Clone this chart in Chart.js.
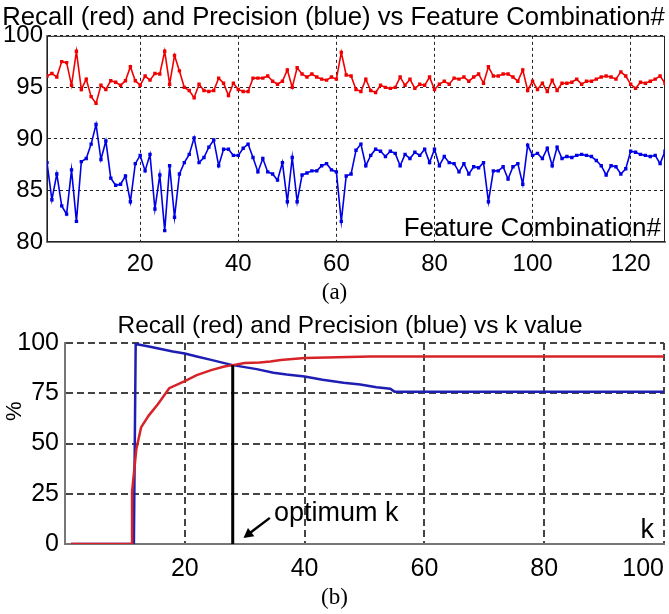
<!DOCTYPE html>
<html>
<head>
<meta charset="utf-8">
<script src="https://cdn.jsdelivr.net/npm/chart.js@4.4.1/dist/chart.umd.min.js"></script>
<style>
  html, body { margin: 0; padding: 0; background: #fff; }
  body { width: 669px; height: 614px; position: relative; overflow: hidden; }
  canvas { position: absolute; left: 0; }
  #topChart { top: 0; }
  #botChart { top: 305px; }
  .cap { position: absolute; left: 0; width: 669px; text-align: center;
         font-family: "Liberation Serif", "Times New Roman", serif; font-size: 23px; color: #000; }
</style>
</head>
<body>
<canvas id="topChart" width="669" height="290"></canvas>
<canvas id="botChart" width="669" height="285"></canvas>
<div class="cap" style="top:279px">(a)</div>
<div class="cap" style="top:584px">(b)</div>
<script>
// ---- (a) recall / precision per feature combination
const recallA = [
  96.1, 96.35, 96.0, 97.5, 97.4, 95.2, 98.5, 94.8, 95.8, 94.1,
  93.45, 95.2, 94.8, 95.65, 95.5, 95.2, 95.65, 97.0, 95.65, 95.2,
  96.1, 95.7, 96.35, 96.3, 98.5, 95.3, 98.1, 96.6, 95.0, 94.7,
  94.0, 95.3, 94.7, 94.6, 94.7, 95.9, 95.4, 94.2, 95.4, 94.8,
  94.6, 94.6, 95.9, 95.9, 95.9, 96.1, 95.6, 95.3, 95.6, 96.7,
  95.0, 96.9, 96.3, 96.0, 96.3, 96.0, 95.8, 95.7, 96.0, 95.8,
  98.4, 96.2, 96.1, 94.8, 94.6, 95.8, 94.7, 94.5, 95.2, 95.0,
  94.9, 95.0, 96.0, 95.2, 95.8, 94.9, 95.3, 95.2, 96.0, 94.8,
  95.3, 95.6, 95.3, 95.9, 95.8, 96.0, 95.6, 96.0, 96.3, 95.4,
  97.0, 96.1, 96.1, 96.3, 96.3, 96.0, 95.6, 96.7, 94.7, 95.6,
  94.8, 95.4, 94.6, 95.7, 94.7, 95.4, 95.4, 95.5, 95.8, 95.3,
  95.6, 95.6, 95.8, 96.0, 96.1, 96.0, 95.8, 96.5, 96.1, 95.3,
  94.9, 95.5, 95.4, 95.6, 95.8, 96.1, 95.4
];
const precisionA = [
  87.7, 84.1, 86.6, 83.5, 82.7, 87.0, 82.0, 87.8, 88.1, 89.5,
  91.4, 88.0, 89.8, 86.2, 85.5, 85.6, 86.4, 83.9, 87.6, 88.4,
  86.9, 88.5, 83.2, 86.5, 81.1, 87.4, 82.4, 86.6, 87.7, 88.5,
  90.1, 87.7, 88.2, 89.2, 89.9, 87.4, 89.0, 89.0, 88.4, 88.4,
  89.1, 89.5, 88.2, 86.8, 88.1, 86.8, 86.6, 86.0, 87.7, 83.9,
  88.2, 83.9, 86.5, 86.7, 86.9, 86.9, 87.4, 87.6, 87.0, 86.8,
  82.0, 86.4, 86.6, 88.9, 89.5, 87.4, 88.4, 89.0, 88.8, 88.3,
  88.8, 88.6, 87.4, 88.5, 88.1, 88.7, 88.4, 89.0, 87.7, 89.0,
  87.4, 88.3, 87.7, 87.6, 86.8, 87.6, 86.6, 87.3, 87.2, 87.7,
  83.9, 86.9, 86.9, 87.3, 86.1, 87.3, 87.6, 85.6, 89.4, 88.4,
  88.6, 88.1, 89.1, 87.4, 89.2, 88.1, 88.3, 88.2, 88.4, 88.5,
  88.4, 88.3, 87.9, 87.4, 86.5, 87.4, 87.3, 86.6, 87.1, 88.8,
  88.7, 88.5, 88.4, 88.3, 88.4, 87.6, 88.8
];
const featureCombos = recallA.map((v, i) => i + 1);
const xTicksA = [20, 40, 60, 80, 100, 120];
const yTicksA = [80, 85, 90, 95, 100];

// ---- (b) recall / precision against k
const kRecall    = [1, 11.2, 11.2, 11.9, 12.7, 14, 15.5, 17.4, 20, 22, 24.4, 26.6, 28, 30, 32.5, 34.3, 36, 40, 51, 100];
const recallB    = [0, 0, 26, 47, 58, 64, 69.5, 77.5, 81, 84, 86.5, 88.3, 89, 90, 90.3, 90.8, 91.5, 92.5, 93.3, 93.3];
const kPrecision = [1, 11.5, 11.8, 14, 16, 18, 20, 22, 24.4, 26.6, 28, 30, 32, 34.8, 37, 40, 43, 46.5, 49.3, 52, 54.3, 55, 100];
const precisionB = [0, 0, 99.5, 98.3, 97, 95.8, 94.8, 93.3, 91.6, 90, 89, 88, 87, 85.2, 84.3, 83.3, 81.7, 80.2, 79.3, 78, 77.2, 75.8, 75.8];
const optimumK = 28;
const optimumTop = 89;
const arrowFrom = [34.2, 13];
const arrowTo = [29.8, 3];
const noteAt = [34.9, 11.5];
const xTicksB = [0, 20, 40, 60, 80, 100];
const xLabelsB = ['', '20', '40', '60', '80', '100'];
const yTicksB = [0, 25, 50, 75, 100];
const titleB = 'Recall (red) and Precision (blue) vs k value';

const sans = '"Liberation Sans", Arial, sans-serif';

function pairs(xs, ys) {
  return xs.map((x, i) => ({ x: x, y: ys[i] }));
}
function fixedTicks(list) {
  return function (scale) { scale.ticks = list.map(v => ({ value: v })); };
}
function fixWidth(w) {
  return function (scale) { scale.width = w; scale.paddingTop = 0; scale.paddingBottom = 0; };
}
function fixHeight(h) {
  return function (scale) { scale.height = h; scale.paddingLeft = 0; scale.paddingRight = 0; };
}

const topDecor = {
  id: 'topDecor',
  beforeDatasetsDraw(chart) {
    const { ctx, chartArea: a } = chart;
    ctx.save();
    ctx.strokeStyle = '#222';
    ctx.lineWidth = 1;
    ctx.strokeRect(a.left + 0.5, a.top + 0.5, a.right - a.left - 1, a.bottom - a.top - 1);
    ctx.restore();
  },
  afterDraw(chart) {
    const { ctx, chartArea: a } = chart;
    ctx.save();
    ctx.font = '26px ' + sans;
    ctx.fillStyle = '#000';
    ctx.textAlign = 'right';
    ctx.textBaseline = 'alphabetic';
    ctx.fillText('Feature Combination#', a.right - 4, a.bottom - 6);
    ctx.restore();
  }
};

const botDecor = {
  id: 'botDecor',
  afterDraw(chart) {
    const { ctx, chartArea: a } = chart;
    const x = chart.scales.x, y = chart.scales.y;
    ctx.save();
    ctx.fillStyle = '#000';

    // title, centred a little right of the canvas middle like the original
    ctx.font = '24.4px ' + sans;
    ctx.textAlign = 'center';
    ctx.textBaseline = 'middle';
    ctx.fillText(titleB, 350, a.top - 17);

    // arrow to the optimum line
    const x0 = x.getPixelForValue(arrowFrom[0]), y0 = y.getPixelForValue(arrowFrom[1]);
    const x1 = x.getPixelForValue(arrowTo[0]), y1 = y.getPixelForValue(arrowTo[1]);
    const ang = Math.atan2(y1 - y0, x1 - x0);
    ctx.strokeStyle = '#000';
    ctx.lineWidth = 2.5;
    ctx.beginPath();
    ctx.moveTo(x0, y0);
    ctx.lineTo(x1 - 6 * Math.cos(ang), y1 - 6 * Math.sin(ang));
    ctx.stroke();
    ctx.beginPath();
    ctx.moveTo(x1, y1);
    ctx.lineTo(x1 - 11 * Math.cos(ang - 0.5), y1 - 11 * Math.sin(ang - 0.5));
    ctx.lineTo(x1 - 11 * Math.cos(ang + 0.5), y1 - 11 * Math.sin(ang + 0.5));
    ctx.closePath();
    ctx.fill();

    ctx.font = '27px ' + sans;
    ctx.textAlign = 'left';
    ctx.textBaseline = 'alphabetic';
    ctx.fillText('optimum k', x.getPixelForValue(noteAt[0]), y.getPixelForValue(noteAt[1]));
    ctx.textAlign = 'right';
    ctx.fillText('k', a.right - 10, a.bottom - 6);

    // rotated "%" axis label
    ctx.translate(15, y.getPixelForValue(66));
    ctx.rotate(-Math.PI / 2);
    ctx.textAlign = 'center';
    ctx.textBaseline = 'middle';
    ctx.font = '22px ' + sans;
    ctx.fillText('%', 0, 0);
    ctx.restore();
  }
};

new Chart(document.getElementById('topChart'), {
  type: 'line',
  data: {
    datasets: [{
      label: 'Recall',
      data: pairs(featureCombos, recallA),
      borderColor: 'rgb(240,0,0)',
      backgroundColor: 'rgb(240,0,0)',
      borderWidth: 1.6,
      pointStyle: 'rect',
      pointRadius: 2.4,
      pointBorderWidth: 0
    }, {
      label: 'Precision',
      data: pairs(featureCombos, precisionA),
      borderColor: 'rgb(0,0,230)',
      backgroundColor: 'rgb(0,0,230)',
      borderWidth: 1.6,
      pointStyle: 'rect',
      pointRadius: 2.4,
      pointBorderWidth: 0
    }]
  },
  options: {
    responsive: false,
    animation: false,
    layout: { padding: { left: 0, right: 2, top: 0, bottom: 0 } },
    plugins: {
      legend: { display: false },
      tooltip: { enabled: false },
      title: {
        display: true,
        text: 'Recall (red) and Precision (blue) vs Feature Combination#',
        color: '#000',
        font: { family: sans, size: 25.7, weight: 'normal' },
        padding: { top: 2, bottom: 3 }
      }
    },
    scales: {
      x: {
        type: 'linear', min: 1, max: 127,
        afterBuildTicks: fixedTicks(xTicksA),
        afterFit: fixHeight(48),
        grid: { color: '#222', lineWidth: 1, drawTicks: false },
        border: { display: true, color: '#777', width: 2, dash: [3, 3] },
        ticks: { color: '#000', font: { family: sans, size: 24 }, padding: 8, maxRotation: 0, autoSkip: false }
      },
      y: {
        type: 'linear', min: 80, max: 100,
        afterBuildTicks: fixedTicks(yTicksA),
        afterFit: fixWidth(47),
        grid: { color: '#222', lineWidth: 1, drawTicks: false },
        border: { display: true, color: '#777', width: 2, dash: [3, 3] },
        ticks: { color: '#000', font: { family: sans, size: 24 }, padding: 4 }
      }
    }
  },
  plugins: [topDecor]
});

new Chart(document.getElementById('botChart'), {
  type: 'line',
  data: {
    datasets: [{
      label: 'optimum k',
      data: pairs([optimumK, optimumK], [0, optimumTop]),
      borderColor: '#000',
      borderWidth: 3,
      pointRadius: 0
    }, {
      label: 'Recall',
      data: pairs(kRecall, recallB),
      borderColor: 'rgb(215,35,40)',
      borderWidth: 2.5,
      pointRadius: 0
    }, {
      label: 'Precision',
      data: pairs(kPrecision, precisionB),
      borderColor: 'rgb(30,30,180)',
      borderWidth: 2.5,
      pointRadius: 0
    }]
  },
  options: {
    responsive: false,
    animation: false,
    layout: { padding: { left: 0, right: 5, top: 38, bottom: 0 } },
    plugins: {
      legend: { display: false },
      tooltip: { enabled: false },
      title: { display: false }
    },
    scales: {
      x: {
        type: 'linear', min: 0, max: 100,
        afterBuildTicks: fixedTicks(xTicksB),
        afterFit: fixHeight(46),
        grid: { color: '#444', lineWidth: 2, drawTicks: false },
        border: { display: true, color: '#777', width: 2, dash: [7, 4] },
        ticks: {
          color: '#000', font: { family: sans, size: 25 }, padding: 10,
          maxRotation: 0, autoSkip: false, align: 'inner',
          callback: (v, i) => xLabelsB[i]
        }
      },
      y: {
        type: 'linear', min: 0, max: 100,
        afterBuildTicks: fixedTicks(yTicksB),
        afterFit: fixWidth(65),
        grid: { color: '#444', lineWidth: 2, drawTicks: false },
        border: { display: true, color: '#777', width: 2, dash: [7, 4] },
        ticks: { color: '#000', font: { family: sans, size: 25 }, padding: 6 }
      }
    }
  },
  plugins: [botDecor]
});
</script>
</body>
</html>
